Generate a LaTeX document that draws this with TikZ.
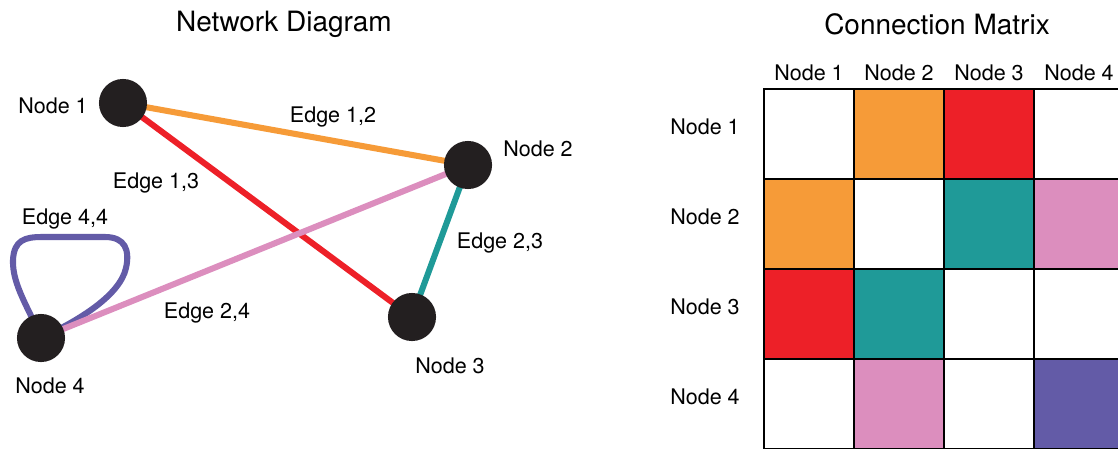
\documentclass[tikz,border=0pt]{standalone}
\usepackage{fontspec}
\setmainfont{TeX Gyre Heros}
\usetikzlibrary{backgrounds}
\definecolor{EdgeOrange}{RGB}{246,155,56}
\definecolor{EdgeRed}{RGB}{237,32,40}
\definecolor{EdgeTeal}{RGB}{31,154,152}
\definecolor{EdgePink}{RGB}{220,142,190}
\definecolor{EdgePurple}{RGB}{99,91,167}
\definecolor{NodeBlack}{RGB}{35,31,32}
\tikzset{
  vertex/.style={circle,fill=NodeBlack,minimum size=34.2pt,inner sep=0pt},
  lbl/.style={font=\fontsize{15.3}{18}\selectfont,inner sep=0pt},
  ttl/.style={font=\fontsize{19.9}{24}\selectfont,inner sep=0pt},
  edge/.style={line width=4.3pt},
  cell/.style={draw=black,line width=2.1pt}
}

\begin{document}
\begin{tikzpicture}[x=0.025cm,y=-0.025cm]
  \useasboundingbox (0,0) rectangle (1118,448);
  \clip (0,0) rectangle (1118,448);

  % left: the graph
  \node[ttl] (ttlnet) at (284,24) {Network Diagram};
  \node[vertex] (n1) at (123,103) {};
  \node[vertex] (n2) at (468,165) {};
  \node[vertex] (n3) at (412,317) {};
  \node[vertex] (n4) at (41,338) {};
  \node[lbl] (l1) at (53,106) {Node 1};
  \node[lbl] (l2) at (538,149) {Node 2};
  \node[lbl] (l3) at (450,366) {Node 3};
  \node[lbl] (l4) at (50,386) {Node 4};
  \begin{scope}[on background layer]
    \draw[edge,EdgeOrange] (n1.center) -- (n2.center);
    \draw[edge,EdgeRed] (n1.center) -- (n3.center);
    \draw[edge,EdgeTeal] (n2.center) -- (n3.center);
    \draw[edge,EdgePurple] (n4.center) .. controls (30,310) and (12,285) .. (13,260)
      .. controls (14,240) and (25,237) .. (42,237) -- (105,237)
      .. controls (125,237) and (130,250) .. (126,268)
      .. controls (120,295) and (80,320) .. (n4.center);
    \draw[edge,EdgePink] (n2.center) -- (n4.center);
  \end{scope}
  \node[lbl] (e12) at (333,117) {Edge 1,2};
  \node[lbl] (e13) at (156,183) {Edge 1,3};
  \node[lbl] (e23) at (500,243) {Edge 2,3};
  \node[lbl] (e24) at (207,313) {Edge 2,4};
  \node[lbl] (e44) at (65,219) {Edge 4,4};

  % right: the matrix
  \node[ttl] (ttlmat) at (937,24) {Connection Matrix};
  \foreach \r/\row in {1/{white,EdgeOrange,EdgeRed,white},
                       2/{EdgeOrange,white,EdgeTeal,EdgePink},
                       3/{EdgeRed,EdgeTeal,white,white},
                       4/{white,EdgePink,white,EdgePurple}}{
    \foreach \col [count=\c] in \row
      \draw[cell,fill=\col] ({764+90*(\c-1)},{89+90*(\r-1)}) rectangle ++(90,90);
  }
  \foreach \i in {1,...,4}{
    \node[lbl] (col\i) at ({809+90*(\i-1)},73) {Node \i};
    \node[lbl] (row\i) at (705,{127+90*(\i-1)}) {Node \i};
  }
\end{tikzpicture}
\end{document}
